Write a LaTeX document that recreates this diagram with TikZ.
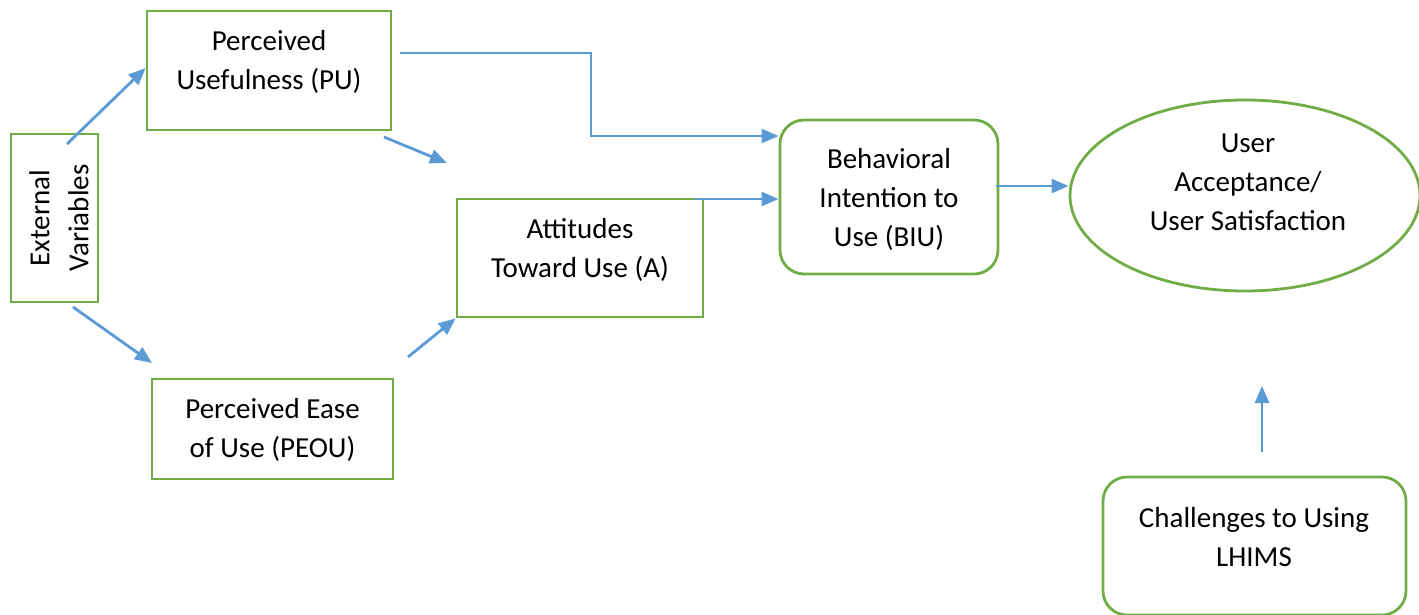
\documentclass[tikz,border=0pt]{standalone}
\usepackage{fontspec}
\setmainfont{Carlito}
\usetikzlibrary{arrows.meta,shapes.geometric}
\definecolor{grn}{HTML}{70AD47}
\definecolor{blu}{HTML}{5B9BD5}
\begin{document}
\begin{tikzpicture}[x=1pt,y=-1pt,
  box/.style={draw=grn,line width=2.8pt,inner sep=0pt},
  rbox/.style={box,rounded corners=24pt},
  lbl/.style={align=center,font=\fontsize{29}{39}\selectfont,inner sep=0pt},
  arr/.style={draw=blu,line width=2.8pt,-{Triangle[length=17pt,width=14pt]}}]
\useasboundingbox (0,0) rectangle (1419,614);
% boxes
\node[box,minimum width=87pt,minimum height=168pt] (ev) at (54.5,218) {};
\node[lbl,rotate=90] (evt) at (59,218) {External\\Variables};
\node[box,minimum width=244pt,minimum height=119pt] (pu) at (269,70.5) {};
\node[lbl] (put) at (269,62) {Perceived\\Usefulness (PU)};
\node[box,minimum width=246pt,minimum height=118pt] (at) at (580,258) {};
\node[lbl] (att) at (580,250) {Attitudes\\Toward Use (A)};
\node[box,minimum width=241pt,minimum height=100pt] (pe) at (272.5,429) {};
\node[lbl] (pet) at (272.5,430) {Perceived Ease\\of Use (PEOU)};
\node[rbox,minimum width=218pt,minimum height=154pt] (bi) at (889,197) {};
\node[lbl] (bit) at (889,199) {Behavioral\\Intention to\\Use (BIU)};
\node[draw=grn,line width=2.8pt,ellipse,minimum width=350pt,minimum height=191pt,inner sep=0pt] (ua) at (1245,195.5) {};
\node[lbl] (uat) at (1248,182) {User\\Acceptance/\\User Satisfaction};
\node[rbox,minimum width=303pt,minimum height=138pt] (ch) at (1254.5,546) {};
\node[lbl] (cht) at (1254,537) {Challenges to Using\\LHIMS};
% connector end points
\coordinate (a1s) at (67,144);
\coordinate (a2s) at (384,137);
\coordinate (a2e) at (447,163);
\coordinate (a3s) at (73,307);
\coordinate (a3e) at (152,363);
\coordinate (a4s) at (408,357);
\coordinate (a5s) at (400,53);
\coordinate (a5m) at (591,53);
\coordinate (a6s) at (695,199);
\coordinate (a7s) at (996,186);
\coordinate (a8s) at (1262,452);
\coordinate (a8e) at (1262,386);
% connectors
\draw[arr] (a1s) -- (pu.west |- 0,68);
\draw[arr] (a2s) -- (a2e);
\draw[arr] (a3s) -- (a3e);
\draw[arr] (a4s) -- (at.south west);
\draw[arr] (a5s) -- (a5m) -- (a5m |- 0,136) -- (bi.west |- 0,136);
\draw[arr] (a6s) -- (bi.west |- a6s);
\draw[arr] (a7s) -- (ua.west |- a7s);
\draw[arr] (a8s) -- (a8e);
\end{tikzpicture}
\end{document}
